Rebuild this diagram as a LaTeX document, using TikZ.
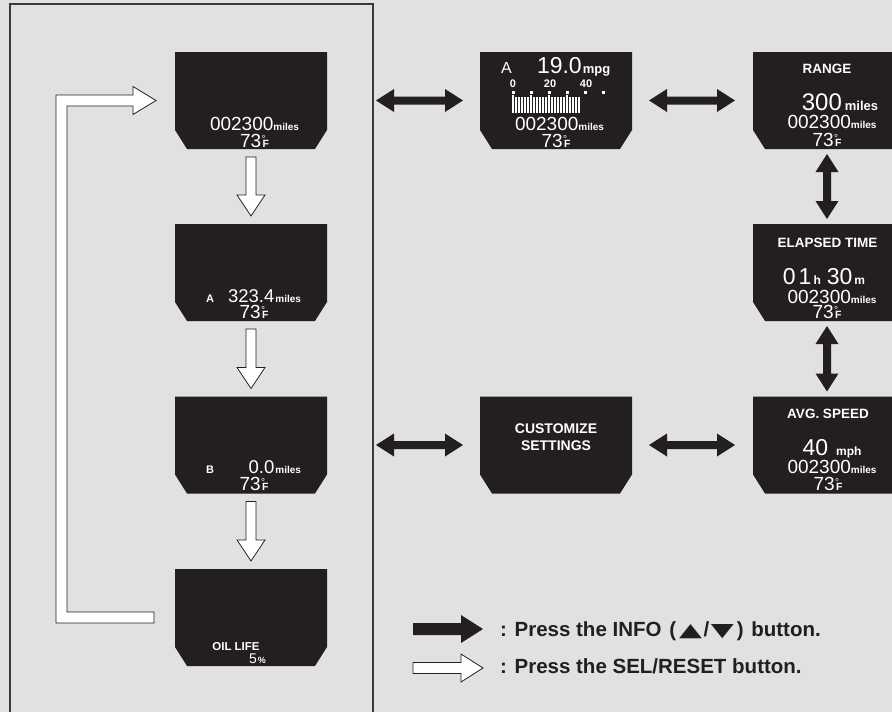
\documentclass[tikz,border=0pt]{standalone}
\usepackage{fontspec}
\usepackage{graphicx}
\setmainfont{Liberation Sans}
\newfontfamily\dispfont{Liberation Sans}
\newfontfamily\legfont{Liberation Sans}
\newfontfamily\symfont{DejaVu Sans}
\usetikzlibrary{calc}
\definecolor{bg}{HTML}{E1E1E1}
\definecolor{screen}{HTML}{231F20}
\definecolor{framec}{HTML}{3A3A3A}
\definecolor{ink}{HTML}{231F20}
\newcommand\fsz[1]{\fontsize{#1}{#1}\selectfont}
\newcommand\dF{{\kern0.5pt\raisebox{5pt}{\fsz{10}°}\kern-3.2pt{\fsz{10.5}\bfseries F}}}
\newcommand\mls{{\fsz{10}\bfseries miles}}
\newcommand\legtri[1]{\resizebox{23pt}{12pt}{\symfont #1}}
\tikzset{
  screenbox/.style={minimum width=152pt, minimum height=97pt, inner sep=0pt, outer sep=0pt},
  screenfill/.style={fill=screen},
  lcd/.style={text=white, inner sep=0pt, outer sep=0pt, font=\dispfont, anchor=base,
              text depth=0pt, text height=13.5pt},
  lcdsm/.style={lcd, text height=9pt},
  barrow/.style={fill=ink},
  warrow/.style={fill=white, draw=ink, line width=0.8pt, line join=miter},
  legtext/.style={text=ink, inner sep=0pt, anchor=base west, font=\legfont\bfseries\fsz{20.5},
                  text height=15pt, text depth=4pt},
  framebox/.style={draw=framec, line width=1.5pt}
}
\newcommand\lcdscreen[3]{%
  \node[screenbox] (#1) at (#2,#3) {};
  \fill[screenfill] (#1.north west) -- (#1.north east) -- ([yshift=19pt]#1.south east)
    -- ([xshift=-12pt]#1.south east) -- ([xshift=12pt]#1.south west)
    -- ([yshift=19pt]#1.south west) -- cycle;}
% horizontal double arrow: #1 left tip, #2 right tip
\newcommand\hdarrow[2]{%
  \fill[barrow] (#1) -- ([xshift=18pt,yshift=11.5pt]#1) -- ([xshift=18pt,yshift=4pt]#1)
    -- ([xshift=-18pt,yshift=4pt]#2) -- ([xshift=-18pt,yshift=11.5pt]#2) -- (#2)
    -- ([xshift=-18pt,yshift=-11.5pt]#2) -- ([xshift=-18pt,yshift=-4pt]#2)
    -- ([xshift=18pt,yshift=-4pt]#1) -- ([xshift=18pt,yshift=-11.5pt]#1) -- cycle;}
% vertical double arrow: #1 top tip, #2 bottom tip
\newcommand\vdarrow[2]{%
  \fill[barrow] (#1) -- ([xshift=11.5pt,yshift=-18pt]#1) -- ([xshift=4pt,yshift=-18pt]#1)
    -- ([xshift=4pt,yshift=18pt]#2) -- ([xshift=11.5pt,yshift=18pt]#2) -- (#2)
    -- ([xshift=-11.5pt,yshift=18pt]#2) -- ([xshift=-4pt,yshift=18pt]#2)
    -- ([xshift=-4pt,yshift=-18pt]#1) -- ([xshift=-11.5pt,yshift=-18pt]#1) -- cycle;}
% white down arrow: #1 tail, #2 tip
\newcommand\wdarrow[2]{%
  \filldraw[warrow] ([xshift=-5pt]#1) -- ([xshift=5pt]#1) -- ([xshift=5pt,yshift=21pt]#2)
    -- ([xshift=14pt,yshift=21pt]#2) -- (#2) -- ([xshift=-14pt,yshift=21pt]#2)
    -- ([xshift=-5pt,yshift=21pt]#2) -- cycle;}
\begin{document}
\begin{tikzpicture}[x=1pt,y=-1pt]
\useasboundingbox (0,0) rectangle (892,712);
\clip (0,0) rectangle (892,712);
\fill[bg] (0,0) rectangle (892,712);
\draw[framebox] (10,4) rectangle (373,716);

% screens
\lcdscreen{odo}{251}{100.5}
\lcdscreen{tripA}{251}{272.5}
\lcdscreen{tripB}{251}{445}
\lcdscreen{oil}{251}{617.5}
\lcdscreen{mpg}{556}{100.5}
\lcdscreen{cust}{556}{445}
\lcdscreen{range}{829}{100.5}
\lcdscreen{elap}{829}{272.5}
\lcdscreen{avg}{829}{445}

% odometer
\node[lcd] (o1) at (254.5,130) {\fsz{19}002300\mls};
\node[lcd] (o2) at (254.5,147) {\fsz{19}73\dF};
% trip A
\node[lcdsm] (ta1) at (210,302) {\fsz{11}\bfseries A};
\node[lcd, anchor=base east] (ta2) at (301,302) {\fsz{18.5}323.4\kern1pt\mls};
\node[lcd] (ta3) at (254,318) {\fsz{19}73\dF};
% trip B
\node[lcdsm] (tb1) at (210,473) {\fsz{11}\bfseries B};
\node[lcd, anchor=base east] (tb2) at (301,473) {\fsz{18.5}0.0\kern1pt\mls};
\node[lcd] (tb3) at (254,490) {\fsz{19}73\dF};
% oil life
\node[lcdsm] (ol1) at (236,650) {\fsz{11.5}\bfseries OIL LIFE};
\node[lcdsm, anchor=base west] (ol2) at (249,663) {\fsz{14}5\kern1pt{\fsz{9}\bfseries\%}};
% mpg
\node[lcd] (m1) at (506.5,73) {\fsz{16}A};
\node[lcd, anchor=base west, text height=17pt] (m2) at (537,73) {\fsz{23}19.0\kern1pt{\fsz{13}\bfseries mpg}};
\node[lcdsm, text height=7.5pt] (m3) at (513,87) {\fsz{11}\bfseries 0};
\node[lcdsm, text height=7.5pt] (m4) at (550,87) {\fsz{11}\bfseries 20};
\node[lcdsm, text height=7.5pt] (m5) at (586,87) {\fsz{11}\bfseries 40};
\foreach \x in {513,531,549,567,585,603} \fill[white] (\x-1.5,90.5) rectangle ++(3,3);
\foreach \i in {0,...,22} {
  \pgfmathtruncatemacro\r{mod(\i,6)}
  \ifnum\r=0 \fill[white] (512+3*\i,94.5) rectangle ++(2.3,18.5);
  \else \fill[white] (512+3*\i,96.5) rectangle ++(2.3,16.5); \fi
}
\node[lcd] (m6) at (559.5,130) {\fsz{19}002300\mls};
\node[lcd] (m7) at (556,147) {\fsz{19}73\dF};
% range
\node[lcdsm] (r1) at (827,73) {\fsz{13.5}\bfseries RANGE};
\node[lcd, text height=16pt] (r2) at (840,110) {\fsz{24}300\kern3pt{\fsz{13}\bfseries miles}};
\node[lcd] (r3) at (832,128) {\fsz{19}002300\mls};
\node[lcd] (r4) at (827,146) {\fsz{19}73\dF};
% elapsed time
\node[lcdsm] (e1) at (827.5,247) {\fsz{13.5}\bfseries ELAPSED TIME};
\node[lcd, text height=16pt] (e2) at (824,284) {\fsz{23}0\kern3pt 1{\fsz{12}\bfseries\kern2pt h}\kern6pt 30{\fsz{12}\bfseries\kern2pt m}};
\node[lcd] (e3) at (832,303) {\fsz{19}002300\mls};
\node[lcd] (e4) at (827,318) {\fsz{19}73\dF};
% avg speed
\node[lcdsm] (a1) at (828,418) {\fsz{13.5}\bfseries AVG. SPEED};
\node[lcd, text height=16pt] (a2) at (832,455) {\fsz{23}40\kern8pt{\fsz{12}\bfseries mph}};
\node[lcd] (a3) at (832,473) {\fsz{19}002300\mls};
\node[lcd] (a4) at (828,490) {\fsz{19}73\dF};
% customize
\node[lcdsm, text height=10pt] (c1) at (556,433) {\fsz{14}\bfseries CUSTOMIZE};
\node[lcdsm, text height=10pt] (c2) at (556,450) {\fsz{14}\bfseries SETTINGS};

% black double arrows (INFO)
\coordinate (h1a) at ([xshift=49pt]odo.east);
\coordinate (h1b) at ([xshift=-17pt]mpg.west);
\hdarrow{h1a}{h1b}
\coordinate (h2a) at ([xshift=17pt]mpg.east);
\coordinate (h2b) at ([xshift=-18pt]range.west);
\hdarrow{h2a}{h2b}
\coordinate (h3a) at ([xshift=49pt]tripB.east);
\coordinate (h3b) at ([xshift=-17pt]cust.west);
\hdarrow{h3a}{h3b}
\coordinate (h4a) at ([xshift=17pt]cust.east);
\coordinate (h4b) at ([xshift=-18pt]avg.west);
\hdarrow{h4a}{h4b}
\coordinate (v1a) at ([xshift=-2pt,yshift=-5pt]range.south);
\coordinate (v1b) at ([xshift=-2pt,yshift=5pt]elap.north);
\vdarrow{v1a}{v1b}
\coordinate (v2a) at ([xshift=-2pt,yshift=-5pt]elap.south);
\coordinate (v2b) at ([xshift=-2pt,yshift=5pt]avg.north);
\vdarrow{v2a}{v2b}

% white arrows (SEL/RESET)
\coordinate (d1a) at ([yshift=-8pt]odo.south);
\coordinate (d1b) at ([yshift=8pt]tripA.north);
\wdarrow{d1a}{d1b}
\coordinate (d2a) at ([yshift=-8pt]tripA.south);
\coordinate (d2b) at ([yshift=8pt]tripB.north);
\wdarrow{d2a}{d2b}
\coordinate (d3a) at ([yshift=-8pt]tripB.south);
\coordinate (d3b) at ([yshift=8pt]oil.north);
\wdarrow{d3a}{d3b}
% loop arrow from oil life back to odometer
\coordinate (lt) at ([xshift=-19pt]odo.west);
\coordinate (lb) at ([xshift=-21pt]oil.west);
\coordinate (lbo) at ([yshift=-5.5pt]lb);
\coordinate (lbi) at ([yshift=5.5pt]lb);
\coordinate (lto) at ([xshift=-23pt,yshift=5.5pt]lt);
\coordinate (lti) at ([xshift=-23pt,yshift=-5.5pt]lt);
\coordinate (lxo) at (56,0);
\coordinate (lxi) at (67,0);
\filldraw[warrow] (lbo) -- (lxo |- lbo) -- (lxo |- lto) -- (lto) -- ([yshift=8.5pt]lto)
  -- (lt) -- ([yshift=-8.5pt]lti) -- (lti) -- (lxi |- lti) -- (lxi |- lbi) -- (lbi) -- cycle;

% legend
\coordinate (k1a) at (413,629);
\coordinate (k1b) at (483,629);
\fill[barrow] ([yshift=6pt]k1a) -- ([xshift=-22pt,yshift=6pt]k1b) -- ([xshift=-22pt,yshift=14pt]k1b)
  -- (k1b) -- ([xshift=-22pt,yshift=-14pt]k1b) -- ([xshift=-22pt,yshift=-6pt]k1b)
  -- ([yshift=-6pt]k1a) -- cycle;
\coordinate (k2a) at (413,668);
\coordinate (k2b) at (483,668);
\filldraw[warrow] ([yshift=5.5pt]k2a) -- ([xshift=-22pt,yshift=5.5pt]k2b) -- ([xshift=-22pt,yshift=14pt]k2b)
  -- (k2b) -- ([xshift=-22pt,yshift=-14pt]k2b) -- ([xshift=-22pt,yshift=-5.5pt]k2b)
  -- ([yshift=-5.5pt]k2a) -- cycle;
\node[legtext] (k1t) at (500,636) {: Press the INFO\kern2pt{} (\kern3pt\legtri{▲}\kern1.5pt/\kern1.5pt\legtri{▼}\kern3pt) \kern2pt button.};
\node[legtext] (k2t) at (500,673) {: Press the SEL/RESET button.};
\end{tikzpicture}
\end{document}
